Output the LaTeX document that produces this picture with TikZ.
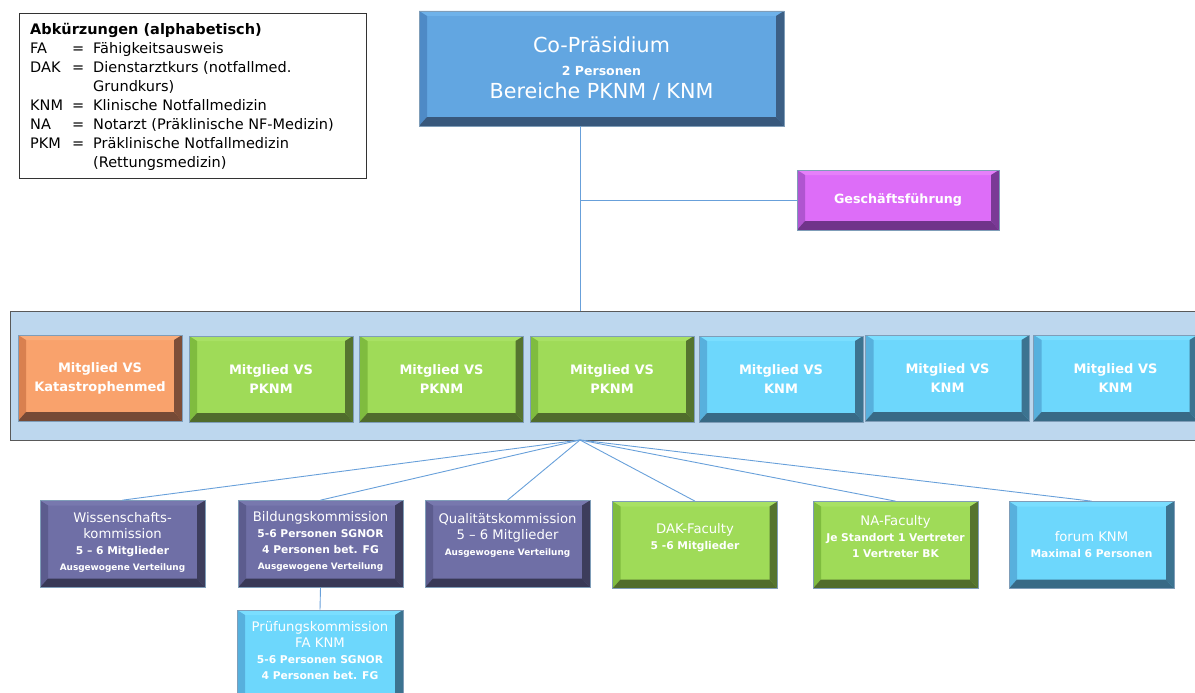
\documentclass[tikz,border=0pt]{standalone}
\usepackage{fontspec}
\setmainfont{DejaVu Sans}

% Farben (Fläche F, oben T, links L, rechts R, unten B)
\definecolor{praesF}{RGB}{98,166,225}
\definecolor{praesT}{RGB}{110,178,234}
\definecolor{praesL}{RGB}{78,138,198}
\definecolor{praesR}{RGB}{60,95,133}
\definecolor{praesB}{RGB}{56,88,124}
\definecolor{gfF}{RGB}{221,109,248}
\definecolor{gfT}{RGB}{230,128,250}
\definecolor{gfL}{RGB}{176,85,208}
\definecolor{gfR}{RGB}{122,58,150}
\definecolor{gfB}{RGB}{112,52,138}
\definecolor{katF}{RGB}{249,162,108}
\definecolor{katT}{RGB}{250,172,122}
\definecolor{katL}{RGB}{217,128,79}
\definecolor{katR}{RGB}{126,78,56}
\definecolor{katB}{RGB}{118,74,54}
\definecolor{pknmF}{RGB}{159,219,88}
\definecolor{pknmT}{RGB}{168,225,100}
\definecolor{pknmL}{RGB}{127,188,63}
\definecolor{pknmR}{RGB}{85,116,47}
\definecolor{pknmB}{RGB}{80,108,44}
\definecolor{knmF}{RGB}{109,215,252}
\definecolor{knmT}{RGB}{122,222,255}
\definecolor{knmL}{RGB}{87,176,221}
\definecolor{knmR}{RGB}{60,115,144}
\definecolor{knmB}{RGB}{56,106,134}
\definecolor{komF}{RGB}{111,111,166}
\definecolor{komT}{RGB}{120,120,174}
\definecolor{komL}{RGB}{92,92,142}
\definecolor{komR}{RGB}{61,61,92}
\definecolor{komB}{RGB}{56,56,86}
\definecolor{rahmen}{RGB}{127,157,184}
\definecolor{band}{RGB}{189,215,238}
\definecolor{linie}{RGB}{104,160,218}

\newcommand{\titel}{\fontsize{13.2}{16}\selectfont}
\newcommand{\detail}{\fontsize{10.7}{16}\selectfont\bfseries}
\newcommand{\klein}{\fontsize{8.9}{16}\selectfont\bfseries}
% schiebt den Text im Kasten nach oben
\newcommand{\hoch}[1]{\rule[-#1]{0pt}{0pt}}

\tikzset{
  bevel/.style={fill=#1F, draw=rahmen, line width=0.7pt, text=white, align=center, inner sep=0pt,
    path picture={
      \coordinate (bNW) at (path picture bounding box.north west);
      \coordinate (bNE) at (path picture bounding box.north east);
      \coordinate (bSW) at (path picture bounding box.south west);
      \coordinate (bSE) at (path picture bounding box.south east);
      \fill[#1T] (bNW) -- (bNE) -- ([shift={(-8,5)}]bNE) -- ([shift={(8,5)}]bNW) -- cycle;
      \fill[#1L] (bNW) -- ([shift={(8,5)}]bNW) -- ([shift={(8,-9)}]bSW) -- (bSW) -- cycle;
      \fill[#1R] (bNE) -- (bSE) -- ([shift={(-8,-9)}]bSE) -- ([shift={(-8,5)}]bNE) -- cycle;
      \fill[#1B] (bSW) -- (bSE) -- ([shift={(-8,-9)}]bSE) -- ([shift={(8,-9)}]bSW) -- cycle;
    }},
  mitglied/.style={bevel=#1, minimum width=164, minimum height=86,
    font=\fontsize{13}{19}\selectfont\bfseries, execute at begin node=\rule{0pt}{16pt}},
  kommission/.style={bevel=#1, minimum width=165, minimum height=87, font=\titel},
  verbindung/.style={draw=linie, line width=0.9pt},
}

\begin{document}
\begin{tikzpicture}[x=1pt, y=-1pt]
  \useasboundingbox (0,0) rectangle (1195,693);

  % Legende
  \node[draw=black!80, fill=white, line width=0.8pt, anchor=north west, inner sep=0pt,
        minimum width=347, minimum height=165] (legende) at (19,13) {};
  \node[anchor=north west, inner sep=0pt, font=\fontsize{14.5}{19}\selectfont] (legtext)
    at ([shift={(11,8)}]legende.north west) {%
    \begin{tabular}{@{}p{42pt}@{}p{21pt}@{}l@{}}
      \multicolumn{3}{@{}l@{}}{\bfseries Abkürzungen (alphabetisch)}\\
      FA  & = & Fähigkeitsausweis\\
      DAK & = & Dienstarztkurs (notfallmed.\\
          &   & Grundkurs)\\
      KNM & = & Klinische Notfallmedizin\\
      NA  & = & Notarzt (Präklinische NF-Medizin)\\
      PKM & = & Präklinische Notfallmedizin\\
          &   & (Rettungsmedizin)
    \end{tabular}};

  % Leitung
  \node[bevel=praes, minimum width=365, minimum height=115, font=\fontsize{20.7}{23}\selectfont]
    (praes) at (601.5,68.5)
    {Co-Präsidium\\ {\fontsize{12.5}{23}\selectfont\bfseries 2 Personen}\\ Bereiche PKNM / KNM};
  \node[bevel=gf, minimum width=202, minimum height=60, font=\fontsize{12.7}{14}\selectfont\bfseries]
    (gf) at (898,200) {Geschäftsführung};

  % Vorstand
  \node[fill=band, draw=black!65, line width=1pt, minimum width=1188, minimum height=129, inner sep=0pt]
    (vorstand) at (604,375.5) {};
  \coordinate (fan) at (580,440);

  \node[mitglied=kat]  (kat)   at (100,378)   {Mitglied VS\\Katastrophenmed};
  \node[mitglied=pknm] (pknmA) at (271,379)   {Mitglied VS\\PKNM};
  \node[mitglied=pknm] (pknmB) at (441.5,379) {Mitglied VS\\PKNM};
  \node[mitglied=pknm] (pknmC) at (612,379)   {Mitglied VS\\PKNM};
  \node[mitglied=knm]  (knmA)  at (781,379)   {Mitglied VS\\KNM};
  \node[mitglied=knm]  (knmB)  at (947.5,378) {Mitglied VS\\KNM};
  \node[mitglied=knm]  (knmC)  at (1115.5,378) {Mitglied VS\\KNM};

  % Kommissionen
  \node[kommission=kom] (wiss) at (122.5,544)
    {\titel Wissenschafts-\\ \titel kommission\\ \detail 5 – 6 Mitglieder\\ \klein Ausgewogene Verteilung\hoch{6pt}};
  \node[kommission=kom] (bild) at (320.5,544)
    {\titel Bildungskommission\\ \detail 5-6 Personen SGNOR\\ \detail 4 Personen bet. FG\\ \klein Ausgewogene Verteilung\hoch{7pt}};
  \node[kommission=kom] (qual) at (507.5,544)
    {\titel Qualitätskommission\\ \titel 5 – 6 Mitglieder\\ \klein Ausgewogene Verteilung\hoch{19pt}};
  \node[kommission=pknm] (dak) at (695,545)
    {\titel DAK-Faculty\\ \detail 5 -6 Mitglieder\hoch{17pt}};
  \node[kommission=pknm] (na) at (895.5,545)
    {\titel NA-Faculty\\ \detail Je Standort 1 Vertreter\\ \detail 1 Vertreter BK\hoch{17pt}};
  \node[kommission=knm] (forum) at (1091.5,545)
    {\titel forum KNM\\ \detail Maximal 6 Personen};
  \node[kommission=knm, minimum width=166, minimum height=95] (pruef) at (320,657.5)
    {\titel Prüfungskommission\\ \titel FA KNM\\ \detail 5-6 Personen SGNOR\\ \detail 4 Personen bet. FG\hoch{15pt}};

  % Verbindungen
  \draw[verbindung] (praes.south -| fan) -- (vorstand.north -| fan);
  \draw[verbindung] (gf.west) -- (gf.west -| fan);
  \draw[verbindung] (fan) -- (wiss.north);
  \draw[verbindung] (fan) -- (bild.north);
  \draw[verbindung] (fan) -- (qual.north);
  \draw[verbindung] (fan) -- (dak.north);
  \draw[verbindung] (fan) -- (na.north);
  \draw[verbindung] (fan) -- (forum.north);
  \draw[verbindung] (bild.south) -- (pruef.north);
\end{tikzpicture}
\end{document}
